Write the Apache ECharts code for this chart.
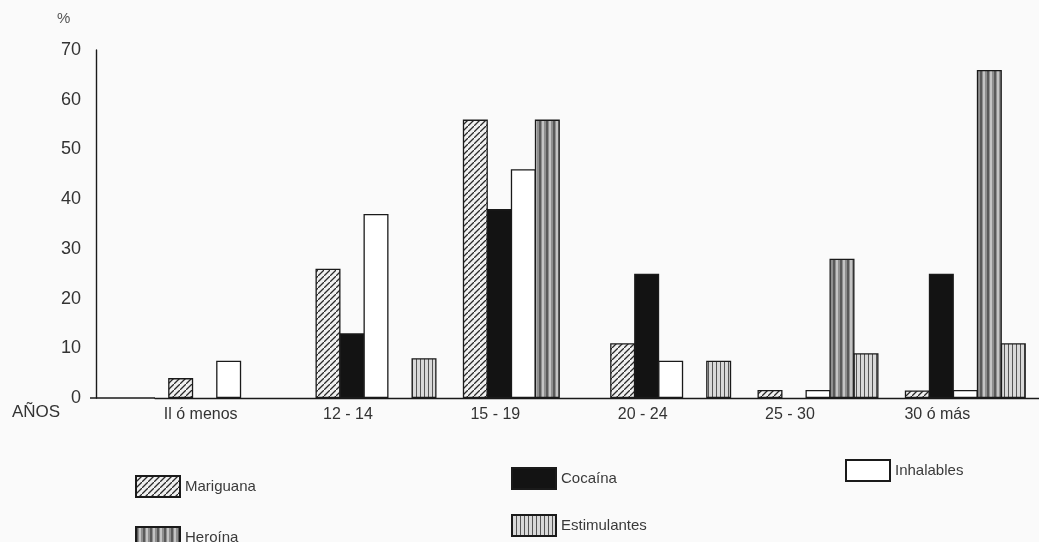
<!DOCTYPE html>
<html>
<head>
<meta charset="utf-8">
<script src="https://cdn.jsdelivr.net/npm/echarts/dist/echarts.min.js"></script>
<style>
html,body{margin:0;padding:0;background:#fafafa;}
#chart{width:1039px;height:542px;}
</style>
</head>
<body>
<div id="chart"></div>
<script>
// ---- data ----
var categories = ["Il ó menos", "12 - 14", "15 - 19", "20 - 24", "25 - 30", "30 ó más"];
var mariguana    = [4, 26, 56, 11, 1.6, 1.5];
var cocaina      = [0, 13, 38, 25, 0, 25];
var inhalables   = [7.5, 37, 46, 7.5, 1.6, 1.6];
var heroina      = [0, 0, 56, 0, 28, 66];
var estimulantes = [0, 8, 0, 7.5, 9, 11];
var yTicks = [0, 10, 20, 30, 40, 50, 60, 70];

// ---- patterns ----
function pat(w, h, draw) {
  var c = document.createElement('canvas');
  c.width = w; c.height = h;
  var g = c.getContext('2d');
  draw(g, w, h);
  return { image: c, repeat: 'repeat' };
}
var hatch = pat(6, 6, function (g, w, h) {
  g.fillStyle = '#f0f0f0'; g.fillRect(0, 0, w, h);
  g.strokeStyle = '#2a2a2a'; g.lineWidth = 1.3;
  g.beginPath();
  g.moveTo(-1, h + 1); g.lineTo(w + 1, -1);
  g.moveTo(-2, 1); g.lineTo(1, -2);
  g.moveTo(w - 1, h + 2); g.lineTo(w + 2, h - 1);
  g.stroke();
});
var heroStripe = pat(7, 4, function (g, w, h) {
  g.fillStyle = '#8f8f8f'; g.fillRect(0, 0, w, h);
  g.fillStyle = '#5a5a5a'; g.fillRect(0, 0, 2, h);
  g.fillStyle = '#c4c4c4'; g.fillRect(3, 0, 2, h);
});
var estStripe = pat(4, 4, function (g, w, h) {
  g.fillStyle = '#d9d9d9'; g.fillRect(0, 0, w, h);
  g.fillStyle = '#555'; g.fillRect(0, 0, 1, h);
});

var GL = 155, GT = 50, GB = 144, AXIS_X = 96, BASE_Y = 398;
var font = 'Liberation Sans, Arial, sans-serif';

function barSeries(name, data, fill) {
  return {
    name: name, type: 'bar',
    data: data.map(function (v) { return v === 0 ? '-' : v; }),
    barWidth: 25, barGap: '-4%',
    itemStyle: { color: fill, borderColor: '#1a1a1a', borderWidth: 1.3 }
  };
}
function legendAt(name, left, top) {
  return {
    data: [name], left: left, top: top, orient: 'horizontal',
    icon: 'rect', itemWidth: 44, itemHeight: 21, itemGap: 8,
    textStyle: { fontSize: 15, color: '#3a3a3a', fontFamily: font },
    selectedMode: false
  };
}

var chart = echarts.init(document.getElementById('chart'));
chart.setOption({
  backgroundColor: '#fafafa',
  animation: false,
  grid: { left: GL, right: 0, top: GT, bottom: GB },
  legend: [
    legendAt('Mariguana', 130, 470),
    legendAt('Cocaína', 506, 462),
    legendAt('Inhalables', 840, 454),
    legendAt('Heroína', 130, 521),
    legendAt('Estimulantes', 506, 509)
  ],
  xAxis: {
    type: 'category', data: categories,
    axisLine: { lineStyle: { color: '#1a1a1a', width: 1.4 } },
    axisTick: { show: false },
    axisLabel: { fontSize: 16, color: '#333', fontFamily: font, margin: 9, padding: [0, 56, 0, 0] }
  },
  yAxis: {
    type: 'value', min: 0, max: 70, interval: 10,
    offset: GL - AXIS_X,
    axisLine: { show: true, lineStyle: { color: '#1a1a1a', width: 1.4 } },
    axisTick: { show: false },
    splitLine: { show: false },
    axisLabel: { fontSize: 18, color: '#333', fontFamily: font, margin: 15,
      formatter: function (v) { return yTicks.indexOf(v) >= 0 ? String(v) : ''; } }
  },
  graphic: [
    { type: 'line', shape: { x1: AXIS_X - 6, y1: BASE_Y, x2: GL, y2: BASE_Y },
      style: { stroke: '#1a1a1a', lineWidth: 1.4 } },
    { type: 'text', left: 57, top: 11,
      style: { text: '%', fontSize: 15, fill: '#555', fontFamily: font } },
    { type: 'text', left: 12, top: 404,
      style: { text: 'AÑOS', fontSize: 17, fill: '#333', fontFamily: font } }
  ],
  series: [
    barSeries('Mariguana', mariguana, hatch),
    barSeries('Cocaína', cocaina, '#131313'),
    barSeries('Inhalables', inhalables, '#ffffff'),
    barSeries('Heroína', heroina, heroStripe),
    barSeries('Estimulantes', estimulantes, estStripe)
  ]
});
</script>
</body>
</html>
